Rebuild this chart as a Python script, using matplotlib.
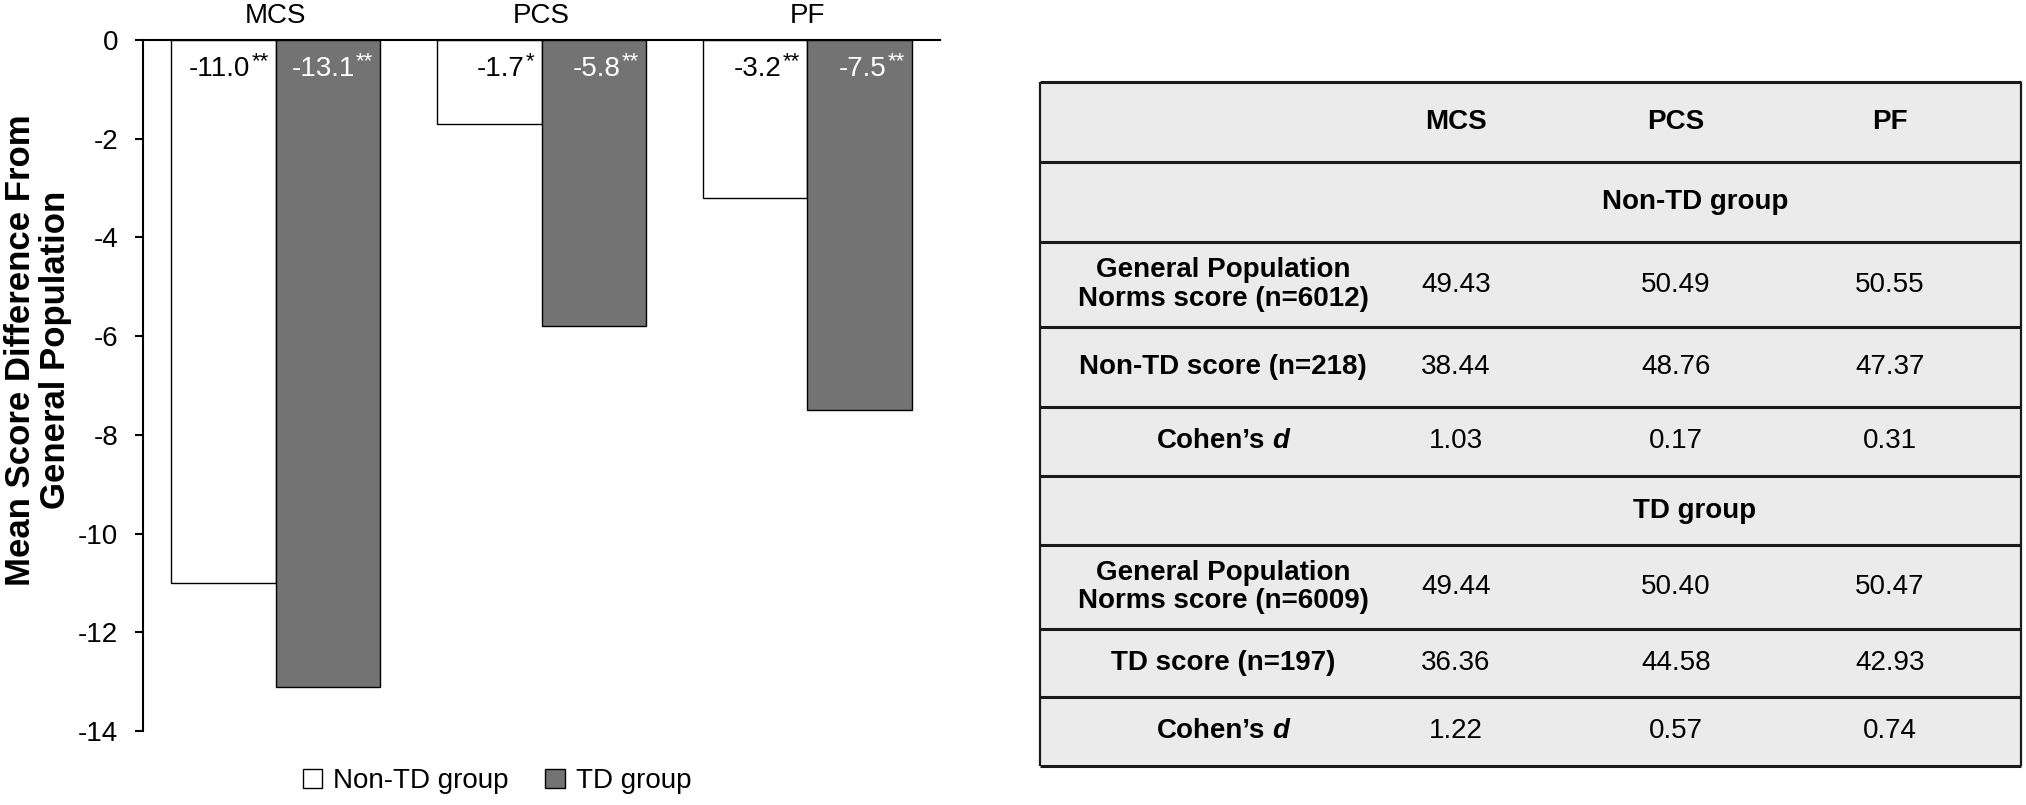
import matplotlib
matplotlib.use('Agg')
import matplotlib.pyplot as plt
import numpy as np
from matplotlib.patches import Rectangle
from matplotlib.transforms import IdentityTransform

plt.rcParams['font.family'] = ['Liberation Sans', 'DejaVu Sans']
plt.rcParams['axes.unicode_minus'] = False

# ---------------- data ----------------
categories = ['MCS', 'PCS', 'PF']
series_names = ['Non-TD group', 'TD group']
non_td_diff = [-11.0, -1.7, -3.2]
td_diff = [-13.1, -5.8, -7.5]
non_td_sig = ['**', '*', '**']
td_sig = ['**', '**', '**']
y_ticks = [0, -2, -4, -6, -8, -10, -12, -14]
y_label = 'Mean Score Difference From\nGeneral Population'

table_cols = ['MCS', 'PCS', 'PF']
section_titles = ['Non-TD group', 'TD group']
nontd_row_labels = ['General Population\nNorms score (n=6012)', 'Non-TD score (n=218)', 'Cohen\u2019s d']
td_row_labels = ['General Population\nNorms score (n=6009)', 'TD score (n=197)', 'Cohen\u2019s d']
nontd_gp_norms = [49.43, 50.49, 50.55]
nontd_score = [38.44, 48.76, 47.37]
nontd_cohen_d = [1.03, 0.17, 0.31]
td_gp_norms = [49.44, 50.40, 50.47]
td_score = [36.36, 44.58, 42.93]
td_cohen_d = [1.22, 0.57, 0.74]

# ---------------- figure ----------------
W, H = 2026, 805
fig = plt.figure(figsize=(W / 100, H / 100), dpi=100)
FS = 20
TD_COLOR = '#737373'

ax = fig.add_axes([143 / W, 1 - 731 / H, (940 - 143) / W, (731 - 40) / H])
x = np.arange(len(categories))
bw = 0.393
b1 = ax.bar(x - bw / 2, non_td_diff, bw, color='white', edgecolor='black', lw=1.0,
            label=series_names[0])
b2 = ax.bar(x + bw / 2, td_diff, bw, color=TD_COLOR, edgecolor='black', lw=1.0,
            label=series_names[1])
ax.set_xlim(-0.5, 2.5)
ax.set_ylim(-14, 0)
for s in ['right', 'bottom']:
    ax.spines[s].set_visible(False)
for s in ['top', 'left']:
    ax.spines[s].set_linewidth(1.5)
ax.xaxis.tick_top()
ax.set_xticks(x, categories)
ax.tick_params(axis='x', length=0, pad=8, labelsize=FS)
ax.set_yticks(y_ticks)
ax.tick_params(axis='y', direction='out', length=6, width=1.5, pad=12, labelsize=FS)

fig.text(38 / W, 1 - 350 / H, y_label, rotation=90, ha='center', va='center',
         fontsize=25, fontweight='bold', multialignment='center', linespacing=1.1)

fig.canvas.draw()
renderer = fig.canvas.get_renderer()

# bar value labels with superscript stars
for bars, vals, sigs, col in [(b1, non_td_diff, non_td_sig, 'black'),
                              (b2, td_diff, td_sig, 'white')]:
    for bar, v, sg in zip(bars, vals, sigs):
        xr, y0 = ax.transData.transform((bar.get_x() + bar.get_width(), 0))
        st = fig.text(xr - 7, y0 - 27, sg, transform=IdentityTransform(), ha='right',
                      va='baseline', fontsize=16, color=col)
        w = st.get_window_extent(renderer).width
        fig.text(xr - 7 - w - 1, y0 - 36, f'{v:.1f}', transform=IdentityTransform(),
                 ha='right', va='baseline', fontsize=FS, color=col)

fig.legend(handles=[b1, b2], labels=series_names, loc='center',
           bbox_to_anchor=(497 / W, 1 - 781 / H), ncol=2, frameon=False, fontsize=FS,
           handlelength=0.7, handleheight=0.7, handletextpad=0.4, columnspacing=1.3)

# ---------------- table ----------------
TX0, TX1, TY0, TY1 = 1040, 2021, 82, 766
TW, TH = TX1 - TX0, TY1 - TY0
tax = fig.add_axes([TX0 / W, 1 - TY1 / H, TW / W, TH / H])
tax.set_xlim(0, TW)
tax.set_ylim(TH, 0)
tax.axis('off')
tax.add_patch(Rectangle((0, 0), TW, TH, facecolor='#ebebeb', edgecolor='none'))
row_edges = [0, 80, 160, 245, 325, 394, 463, 547, 615, 684]
tax.hlines(row_edges, 0, TW, color='#1a1a1a', lw=2.2, clip_on=False)
tax.vlines([0, TW], 0, TH, color='#1a1a1a', lw=1.6, clip_on=False)

label_x = 183
col_x = [416, 636, 850]
title_x = 655

def row_mid(i):
    return (row_edges[i] + row_edges[i + 1]) / 2

def cohen_label(yc):
    t1 = tax.text(0, yc, 'Cohen\u2019s', fontsize=FS, fontweight='bold', va='center', ha='left')
    t2 = tax.text(0, yc, 'd', fontsize=FS, fontweight='bold', fontstyle='italic',
                  va='center', ha='left')
    w1 = t1.get_window_extent(renderer).width
    w2 = t2.get_window_extent(renderer).width
    sp = 0.278 * FS * 100 / 72
    total = w1 + sp + w2
    start = label_x - total / 2
    t1.set_x(start)
    t2.set_x(start + w1 + sp)

for j, c in enumerate(table_cols):
    tax.text(col_x[j], row_mid(0), c, fontsize=FS, fontweight='bold', ha='center', va='center')

blocks = [(1, section_titles[0], nontd_row_labels, [nontd_gp_norms, nontd_score, nontd_cohen_d]),
          (5, section_titles[1], td_row_labels, [td_gp_norms, td_score, td_cohen_d])]
for start, title, labels, rows in blocks:
    tax.text(title_x, row_mid(start), title, fontsize=FS, fontweight='bold',
             ha='center', va='center')
    for k, (lab, vals) in enumerate(zip(labels, rows)):
        r = start + 1 + k
        yc = row_mid(r)
        if lab.startswith('Cohen'):
            cohen_label(yc)
        else:
            tax.text(label_x, yc, lab, fontsize=FS, fontweight='bold', ha='center',
                     va='center', multialignment='center', linespacing=1.15)
        for j, v in enumerate(vals):
            tax.text(col_x[j], yc, f'{v:.2f}', fontsize=FS, ha='center', va='center')

fig.savefig('out.png', dpi=100)
